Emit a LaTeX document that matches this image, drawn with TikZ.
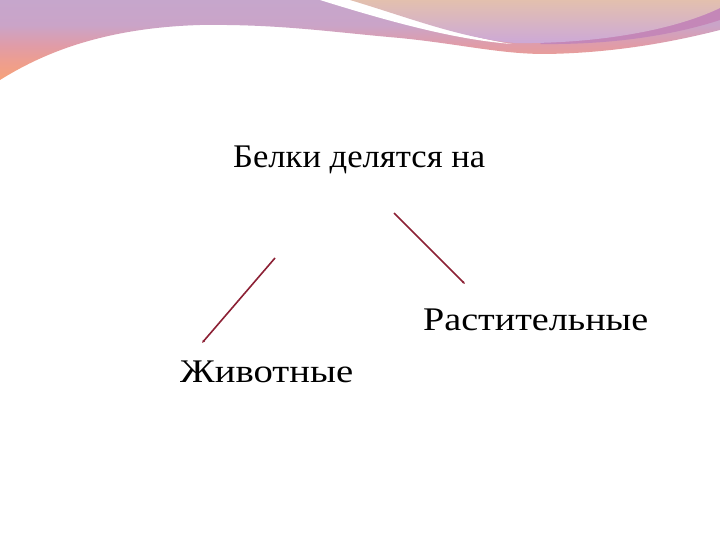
\documentclass[tikz,border=0pt]{standalone}
\usepackage{fontspec}
\setmainfont{Liberation Serif}
\usepackage{graphicx}
\usetikzlibrary{arrows.meta}
\definecolor{bandA}{HTML}{C6A6CC}
\definecolor{bandB}{HTML}{CAA4C8}
\definecolor{bandC}{HTML}{E09CA8}
\definecolor{bandD}{HTML}{EE9E8E}
\definecolor{bandE}{HTML}{F6A27A}
\definecolor{bowlTop}{HTML}{E3C0AE}
\definecolor{bowlMid}{HTML}{DDB6C0}
\definecolor{bowlBot}{HTML}{CCA8D8}
\definecolor{stripe}{HTML}{C487B8}
\definecolor{conncol}{RGB}{140,32,52}
\pgfdeclareverticalshading{bandshade}{100bp}{color(0bp)=(bandE); color(25bp)=(bandE); color(36.25bp)=(bandD); color(46.9bp)=(bandC); color(59.4bp)=(bandB); color(75bp)=(bandA); color(100bp)=(bandA)}
\tikzset{
  conn/.style={draw=conncol, line width=1.6pt, -{Latex[length=3pt,width=3pt]}},
  label/.style={anchor=base west, inner sep=0pt, font=\fontsize{33}{40}\selectfont}
}
\begin{document}
\begin{tikzpicture}[x=1pt,y=-1pt]
\useasboundingbox (0,0) rectangle (720,540);
\fill[white] (0,0) rectangle (720,540);
% back band
\shade[shading=bandshade] (0,0) -- (720,0) -- (720,30)
  .. controls (680,40) and (620,53) .. (545,54)
  .. controls (500,54) and (460,44) .. (400,38)
  .. controls (330,32) and (280,24) .. (200,25)
  .. controls (100,28) and (40,55) .. (0,80) -- cycle;
% purple stripe
\fill[stripe] (540,44) .. controls (620,45) and (680,33) .. (720,20) -- (720,0) -- (600,0) -- cycle;
% white stripe
\fill[white] (320,0) .. controls (400,25) and (460,40) .. (512,44)
  .. controls (460,36) and (405,16) .. (352,0) -- cycle;
% bowl
\shade[top color=bowlTop, middle color=bowlMid, bottom color=bowlBot]
  (350,0) .. controls (410,18) and (460,38) .. (515,43)
  .. controls (590,44) and (670,32) .. (720,8) -- (720,0) -- cycle;
% texts
\node[label] (title) at (233,168) {\resizebox{252pt}{\height}{Белки делятся на}};
\node[label] (plant) at (423,330) {\resizebox{225pt}{\height}{Растительные}};
\node[label] (animal) at (180,382) {\resizebox{173pt}{\height}{Животные}};
% connectors
\coordinate (l1) at (275,258);
\coordinate (l2) at (202,343);
\coordinate (r1) at (394,213);
\coordinate (r2) at (465,284);
\draw[conn] (l1) -- (l2);
\draw[conn] (r1) -- (r2);
\end{tikzpicture}
\end{document}
